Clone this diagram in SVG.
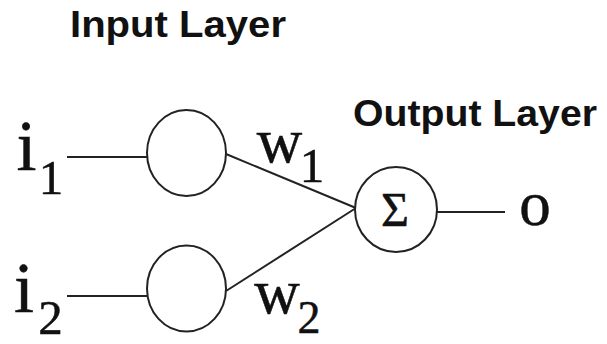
<svg xmlns="http://www.w3.org/2000/svg" width="607" height="344" viewBox="0 0 607 344">
<style>
.lbl{font-family:"Liberation Sans",Arial,sans-serif;font-weight:bold;font-size:37px;fill:#111}
.m{font-family:"Liberation Serif","Times New Roman",serif;fill:#111;stroke:#111;stroke-width:0.5;text-anchor:middle}
.big{font-size:63px}
.sub{font-size:49px}
.node{fill:#fff;stroke:#222;stroke-width:2}
.edge{stroke:#222;stroke-width:2;fill:none}
</style>
<rect width="607" height="344" fill="#fff"/>
<text class="lbl" x="70" y="37" textLength="216" lengthAdjust="spacingAndGlyphs">Input Layer</text>
<text class="lbl" x="353" y="126" font-size="35" textLength="244" lengthAdjust="spacingAndGlyphs">Output Layer</text>
<g id="connectors">
<line class="edge" x1="67" y1="157" x2="147" y2="157"/>
<line class="edge" x1="67" y1="296" x2="147" y2="296"/>
<line class="edge" x1="226" y1="154" x2="356" y2="208"/>
<line class="edge" x1="226" y1="291" x2="356" y2="208"/>
<line class="edge" x1="437" y1="212" x2="505" y2="212"/>
</g>
<g id="input1">
<ellipse class="node" cx="186.5" cy="153" rx="39.5" ry="43"/>
</g>
<g id="input2">
<ellipse class="node" cx="186.5" cy="288.5" rx="39.5" ry="43"/>
</g>
<g id="output">
<ellipse class="node" cx="396" cy="209.5" rx="41" ry="42.5"/>
<text class="m" x="395" y="226" font-size="48" stroke-width="0">Σ</text>
</g>
<g id="labels">
<text class="m" x="26.5" y="170" font-size="72">i</text>
<text class="m sub" x="51" y="194">1</text>
<text class="m" x="24" y="312" font-size="72">i</text>
<text class="m sub" x="50.5" y="334">2</text>
<text class="m big" x="279.5" y="162">w</text>
<text class="m sub" x="312" y="182">1</text>
<text class="m big" x="277" y="313">w</text>
<text class="m" x="309" y="333" font-size="46">2</text>
<text class="m big" x="535" y="225">o</text>
</g>
</svg>
